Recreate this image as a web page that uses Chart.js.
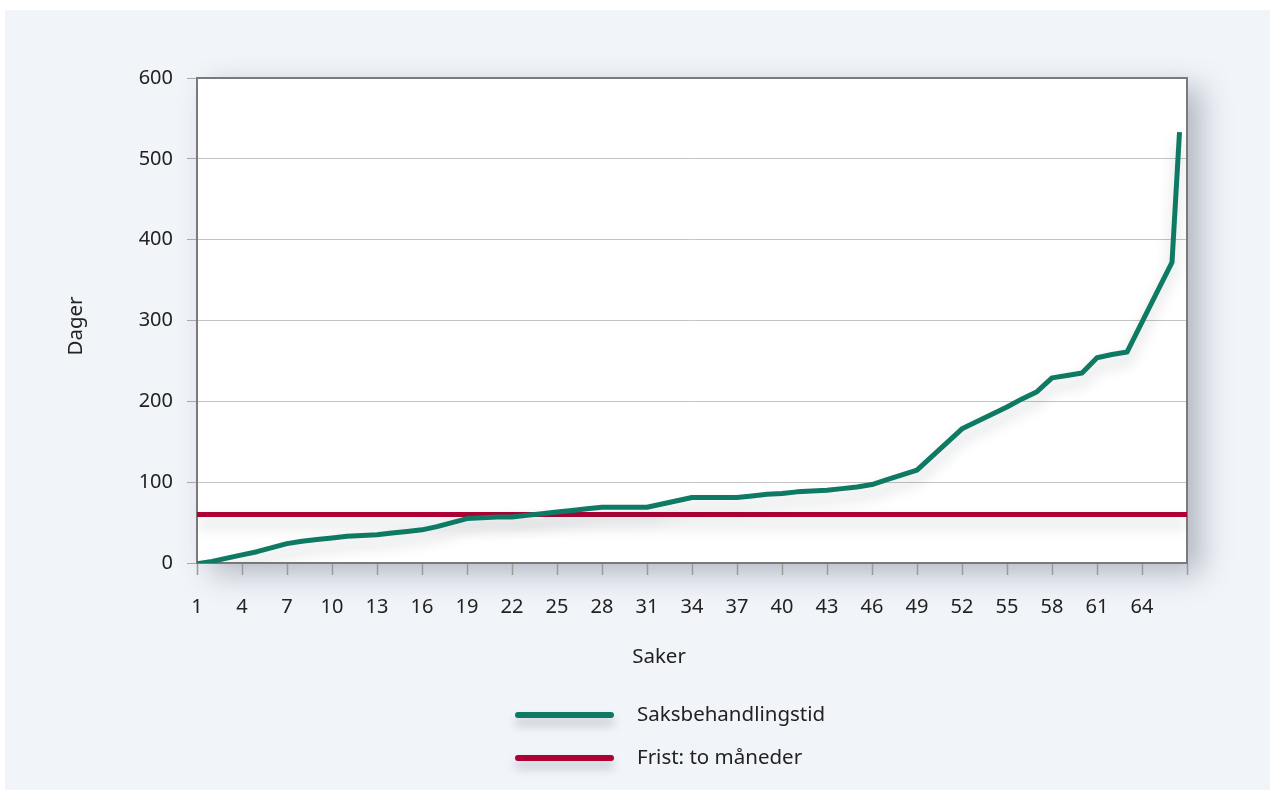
<!DOCTYPE html>
<html lang="no">
<head>
<meta charset="utf-8">
<title>Saksbehandlingstid</title>
<script src="https://cdn.jsdelivr.net/npm/chart.js@4.4.1/dist/chart.umd.min.js"></script>
<style>
  html, body { margin: 0; padding: 0; background: #ffffff; }
  #panel { position: absolute; left: 5px; top: 10px; width: 1265px; height: 780px; background: #f1f4f9; }
  #wrap { position: absolute; left: 0; top: 0; width: 1270px; height: 796px; }
</style>
</head>
<body>
<div id="panel"></div>
<div id="wrap"><canvas id="chart"></canvas></div>
<script>
// ── Data ──────────────────────────────────────────────────
const cases = [
  1, 2, 3, 4, 5, 6, 7, 8, 9, 10, 11, 12, 13, 14, 15, 16, 17, 18, 19, 20,
  21, 22, 23, 24, 25, 26, 27, 28, 29, 30, 31, 32, 33, 34, 35, 36, 37, 38, 39, 40,
  41, 42, 43, 44, 45, 46, 47, 48, 49, 50, 51, 52, 53, 54, 55, 56, 57, 58, 59, 60,
  61, 62, 63, 64, 65, 66, 66.5
];
const processingDays = [
  -1, 2, 6, 10, 14, 19, 24, 27, 29, 31, 33, 34, 35, 37, 39, 41, 45, 50, 55, 56,
  57, 57, 59, 61, 63, 65, 67, 69, 69, 69, 69, 73, 77, 81, 81, 81, 81, 83, 85, 86,
  88, 89, 90, 92, 94, 97, 103, 109, 115, 132, 149, 166, 175, 184, 193, 203, 212, 229, 232, 235,
  254, 258, 261, 298, 335, 372, 533
];
const deadlineDays = 60;            // Frist: to måneder

const xMin = 1, xMax = 67, xStep = 3;
const yMax = 600, yStep = 100;

const seriesLabels = ['Saksbehandlingstid', 'Frist: to måneder'];
const xTitle = 'Saker';
const yTitle = 'Dager';

const GREEN = '#0e7a64';
const RED   = '#ae0034';
const FONT  = '"Noto Sans", "Open Sans", sans-serif';

// ── Plugins ───────────────────────────────────────────────
const plotBackground = {
  id: 'plotBackground',
  beforeDraw(chart) {
    const { ctx, chartArea: a } = chart;
    ctx.save();
    ctx.shadowColor = 'rgba(60,70,90,0.35)';
    ctx.shadowBlur = 28;
    ctx.shadowOffsetX = 14;
    ctx.shadowOffsetY = 10;
    ctx.fillStyle = '#ffffff';
    ctx.fillRect(a.left, a.top, a.right - a.left, a.bottom - a.top);
    ctx.restore();
  },
  beforeDatasetsDraw(chart) {
    const { ctx, chartArea: a } = chart;
    ctx.save();
    ctx.strokeStyle = '#7a7a7a';
    ctx.lineWidth = 2;
    ctx.beginPath();
    ctx.moveTo(a.left, a.top);
    ctx.lineTo(a.right, a.top);
    ctx.lineTo(a.right, a.bottom);
    ctx.stroke();
    ctx.restore();
  }
};

const lineShadow = {
  id: 'lineShadow',
  beforeDatasetDraw(chart) {
    const ctx = chart.ctx;
    ctx.save();
    ctx.shadowColor = 'rgba(40,50,70,0.22)';
    ctx.shadowBlur = 14;
    ctx.shadowOffsetY = 9;
  },
  afterDatasetDraw(chart) {
    chart.ctx.restore();
  }
};

const titlesAndLegend = {
  id: 'titlesAndLegend',
  afterDraw(chart) {
    const ctx = chart.ctx;
    ctx.save();
    ctx.fillStyle = '#222222';
    ctx.font = '20.5px ' + FONT;
    ctx.textBaseline = 'middle';

    // axis titles
    ctx.textAlign = 'center';
    ctx.fillText(xTitle, 659, 657);
    ctx.save();
    ctx.translate(76, 326);
    ctx.rotate(-Math.PI / 2);
    ctx.fillText(yTitle, 0, 0);
    ctx.restore();

    // legend
    ctx.textAlign = 'left';
    chart.data.datasets.forEach((ds, i) => {
      const y = 715 + i * 43;
      ctx.save();
      ctx.shadowColor = 'rgba(40,50,70,0.25)';
      ctx.shadowBlur = 10;
      ctx.shadowOffsetY = 7;
      ctx.strokeStyle = ds.borderColor;
      ctx.lineWidth = 6;
      ctx.lineCap = 'round';
      ctx.beginPath();
      ctx.moveTo(518, y);
      ctx.lineTo(611, y);
      ctx.stroke();
      ctx.restore();
      ctx.fillText(ds.label, 637, y);
    });
    ctx.restore();
  }
};

// ── Chart ─────────────────────────────────────────────────
const ctx = document.getElementById('chart').getContext('2d');
new Chart(ctx, {
  type: 'line',
  data: {
    datasets: [
      {
        label: seriesLabels[0],
        data: cases.map((c, i) => ({ x: c, y: processingDays[i] })),
        borderColor: GREEN,
        borderWidth: 5,
        pointRadius: 0,
        tension: 0,
        borderJoinStyle: 'round'
      },
      {
        label: seriesLabels[1],
        data: [{ x: xMin, y: deadlineDays }, { x: xMax, y: deadlineDays }],
        borderColor: RED,
        borderWidth: 5,
        pointRadius: 0
      }
    ]
  },
  options: {
    responsive: true,
    maintainAspectRatio: false,
    animation: false,
    layout: { padding: { top: 78, right: 83, left: 0, bottom: 0 } },
    plugins: {
      legend: { display: false },
      tooltip: { enabled: false }
    },
    scales: {
      x: {
        type: 'linear',
        min: xMin,
        max: xMax,
        afterFit: s => { s.height = 233; },
        border: { display: true, color: '#7a7a7a', width: 2 },
        grid: { drawOnChartArea: false, drawTicks: true, tickLength: 12, tickColor: '#9a9a9a', tickWidth: 1.5 },
        ticks: {
          stepSize: xStep,
          autoSkip: false,
          maxRotation: 0,
          padding: 20,
          color: '#222222',
          font: { family: FONT, size: 20 },
          callback: v => (v === xMax ? '' : v)
        }
      },
      y: {
        min: 0,
        max: yMax,
        afterFit: s => { s.width = 197; },
        border: { display: true, color: '#7a7a7a', width: 2 },
        grid: { color: '#c4c4c4', lineWidth: 1, tickLength: 10, tickColor: '#a8a8a8' },
        ticks: {
          stepSize: yStep,
          padding: 14,
          color: '#222222',
          font: { family: FONT, size: 20 }
        }
      }
    }
  },
  plugins: [plotBackground, lineShadow, titlesAndLegend]
});
</script>
</body>
</html>
